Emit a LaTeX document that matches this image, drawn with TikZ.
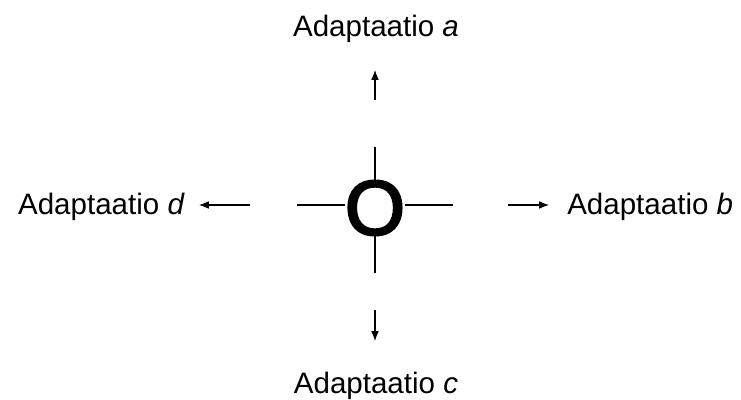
\documentclass[tikz,border=0pt]{standalone}
\usepackage{fontspec}
\setmainfont{Liberation Sans}
\newfontfamily\ofont[FakeBold=3]{Liberation Sans}
\usetikzlibrary{arrows.meta}

\begin{document}
\begin{tikzpicture}[x=0.025cm,y=-0.025cm]
\useasboundingbox (0,0) rectangle (741,400);
\tikzset{lbl/.style={inner sep=0pt,font=\fontsize{21}{25}\selectfont}}

\node[inner sep=0pt,font=\fontsize{55}{55}\ofont] (O) at (375,208) {O};

\coordinate (V1) at (375,147);
\coordinate (V2) at (375,273);
\coordinate (H1) at (297,205);
\coordinate (H2) at (453,205);

\path[black,line width=0.9pt] (V1) edge [] node[]{} (O);
\path[black,line width=0.9pt] (V2) edge [] node[]{} (O);
\path[black,line width=0.9pt] (H1) edge [] node[]{} (H1 -| O.west);
\path[black,line width=0.9pt] (H2) edge [] node[]{} (H2 -| O.east);

\coordinate (A0) at (375,100);
\coordinate (A1) at (375,70);
\coordinate (C0) at (375,310);
\coordinate (C1) at (375,341);
\coordinate (D0) at (250,205);
\coordinate (D1) at (199,205);
\coordinate (B0) at (508,205);
\coordinate (B1) at (549,205);

\path[->,black,>={Latex[length=7pt,width=5.5pt]},line width=0.8pt] (A0) edge [] node[]{} (A1);
\path[->,black,>={Latex[length=7pt,width=5.5pt]},line width=0.8pt] (C0) edge [] node[]{} (C1);
\path[->,black,>={Latex[length=7pt,width=5.5pt]},line width=0.8pt] (D0) edge [] node[]{} (D1);
\path[->,black,>={Latex[length=7pt,width=5.5pt]},line width=0.8pt] (B0) edge [] node[]{} (B1);

\node[lbl,anchor=base] (La) at (376,37) {Adaptaatio \textit{a}};
\node[lbl,anchor=base west] (Lb) at (567,214) {Adaptaatio \textit{b}};
\node[lbl,anchor=base] (Lc) at (376,393) {Adaptaatio \textit{c}};
\node[lbl,anchor=base east] (Ld) at (185,214) {Adaptaatio \textit{d}};

\end{tikzpicture}
\end{document}
